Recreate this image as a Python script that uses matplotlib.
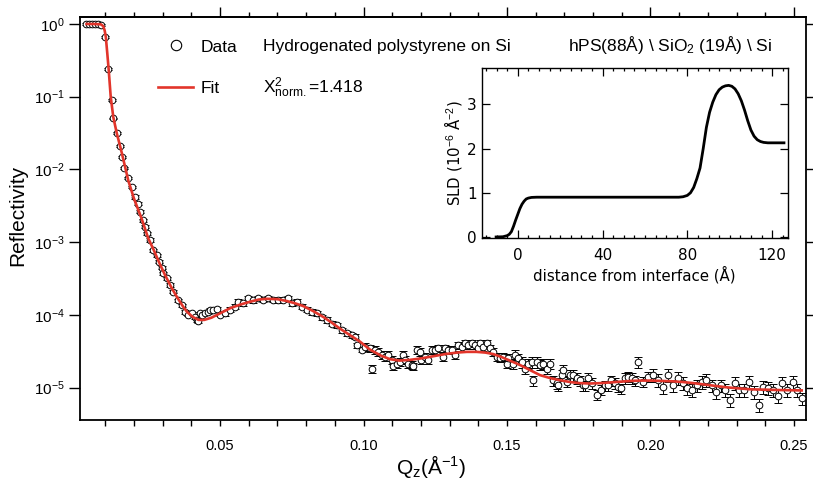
import numpy as np
import matplotlib
matplotlib.use("Agg")
import matplotlib.pyplot as plt
from matplotlib.lines import Line2D
from matplotlib.ticker import MultipleLocator, LogLocator, NullLocator, NullFormatter

plt.rcParams['font.family'] = ['Liberation Sans', 'DejaVu Sans']
plt.rcParams['mathtext.fontset'] = 'custom'
plt.rcParams['mathtext.rm'] = 'Liberation Sans'
plt.rcParams['mathtext.it'] = 'Liberation Sans:italic'

# reflectivity data, Q in 1/A, log10(R)
q_data = [0.0033, 0.0043, 0.0054, 0.0064, 0.0075, 0.0085,
          0.0099, 0.0111, 0.0123, 0.0128, 0.0142, 0.0152, 0.0157, 0.0167, 0.0180, 0.0192,
          0.0204, 0.0215, 0.0221, 0.0230, 0.0239, 0.0245, 0.0256, 0.0268, 0.0279, 0.0289,
          0.0297, 0.0302, 0.0314, 0.0326, 0.0337, 0.0355, 0.0366, 0.0378, 0.0390, 0.0401,
          0.0413, 0.0419, 0.0424, 0.0430, 0.0436, 0.0448, 0.0459, 0.0465, 0.0477, 0.0488,
          0.0500, 0.0517, 0.0535, 0.0552, 0.0564, 0.0581, 0.0599, 0.0616, 0.0634, 0.0651,
          0.0668, 0.0686, 0.0703, 0.0721, 0.0738, 0.0750, 0.0767, 0.0785, 0.0802, 0.0819,
          0.0837, 0.0854, 0.0872, 0.0889, 0.0907, 0.0924, 0.0941, 0.0959, 0.0970, 0.0976,
          0.0994, 0.1005, 0.1023, 0.1028, 0.1040, 0.1052, 0.1063, 0.1075, 0.1087, 0.1098,
          0.1104, 0.1116, 0.1127, 0.1139, 0.1145, 0.1156, 0.1168, 0.1174, 0.1185, 0.1197,
          0.1202, 0.1214, 0.1226, 0.1237, 0.1249, 0.1260, 0.1278, 0.1284, 0.1295, 0.1307,
          0.1319, 0.1330, 0.1342, 0.1354, 0.1365, 0.1377, 0.1389, 0.1400, 0.1406, 0.1417,
          0.1429, 0.1441, 0.1452, 0.1464, 0.1476, 0.1487, 0.1499, 0.1504, 0.1522, 0.1528,
          0.1539, 0.1551, 0.1563, 0.1574, 0.1586, 0.1591, 0.1603, 0.1615, 0.1626, 0.1638,
          0.1650, 0.1661, 0.1673, 0.1679, 0.1690, 0.1696, 0.1708, 0.1720, 0.1731, 0.1743,
          0.1754, 0.1766, 0.1771, 0.1783, 0.1795, 0.1812, 0.1829, 0.1841, 0.1852, 0.1864,
          0.1876, 0.1887, 0.1899, 0.1911, 0.1922, 0.1934, 0.1946, 0.1957, 0.1974, 0.1992,
          0.2009, 0.2027, 0.2045, 0.2062, 0.2077, 0.2097, 0.2114, 0.2128, 0.2143, 0.2161,
          0.2178, 0.2193, 0.2213, 0.2228, 0.2245, 0.2260, 0.2277, 0.2294, 0.2309, 0.2326,
          0.2343, 0.2361, 0.2377, 0.2393, 0.2411, 0.2428, 0.2445, 0.2460, 0.2477, 0.2495,
          0.2511, 0.2527]
logr_data = [0.0, 0.0, 0.0, 0.0, 0.0, -0.01,
             -0.175, -0.62, -1.04, -1.30, -1.50, -1.68, -1.83, -1.98, -2.12, -2.24,
             -2.38, -2.47, -2.58, -2.70, -2.79, -2.88, -2.97, -3.11, -3.18, -3.27,
             -3.35, -3.43, -3.50, -3.59, -3.68, -3.80, -3.87, -3.96, -4.00, -3.98,
             -4.03, -4.07, -4.09, -3.98, -4.00, -3.97, -3.96, -3.93, -3.93, -3.92,
             -4.00, -3.98, -3.93, -3.89, -3.82, -3.84, -3.77, -3.80, -3.77, -3.79,
             -3.77, -3.79, -3.80, -3.79, -3.77, -3.84, -3.82, -3.89, -3.93, -3.96,
             -3.98, -4.03, -4.07, -4.12, -4.14, -4.21, -4.25, -4.28, -4.30, -4.42,
             -4.48, -4.44, -4.46, -4.74, -4.48, -4.51, -4.55, -4.58, -4.55, -4.62,
             -4.71, -4.67, -4.65, -4.55, -4.62, -4.67, -4.69, -4.71, -4.48, -4.51,
             -4.62, -4.58, -4.62, -4.48, -4.48, -4.46, -4.58, -4.46, -4.48, -4.48,
             -4.55, -4.42, -4.44, -4.39, -4.42, -4.39, -4.42, -4.46, -4.39, -4.44,
             -4.39, -4.46, -4.51, -4.58, -4.60, -4.58, -4.67, -4.60, -4.67, -4.55,
             -4.60, -4.65, -4.74, -4.67, -4.65, -4.90, -4.65, -4.69, -4.67, -4.74,
             -4.67, -4.90, -4.94, -4.97, -4.83, -4.76, -4.92, -4.83, -4.83, -4.87,
             -4.90, -4.97, -4.97, -4.87, -4.94, -5.10, -5.03, -4.97, -4.97, -4.90,
             -4.94, -4.99, -5.01, -4.87, -4.85, -4.87, -4.90, -4.65, -4.92, -4.85,
             -4.83, -4.90, -4.99, -4.83, -4.97, -4.87, -4.94, -5.01, -5.03, -4.97,
             -4.92, -4.90, -4.97, -5.06, -4.97, -5.03, -5.17, -4.94, -5.03, -5.03,
             -4.92, -5.06, -5.24, -4.99, -5.01, -5.03, -5.12, -4.94, -5.03, -4.92,
             -5.03, -5.15]

# relative error by Q band
err_edges = [0.02, 0.05, 0.10, 0.15, 0.20]
err_rel = [0.03, 0.05, 0.08, 0.12, 0.16, 0.20]

# fit curve
q_fit = [0.0035, 0.0060, 0.0085, 0.0093, 0.0098, 0.0102, 0.0107, 0.0112, 0.0119, 0.0128,
         0.0140, 0.0155, 0.0170, 0.0180, 0.0200, 0.0227, 0.0250, 0.0268, 0.0290, 0.0308,
         0.0330, 0.0349, 0.0370, 0.0385, 0.0405, 0.0425, 0.0445, 0.0470, 0.0500, 0.0535,
         0.0570, 0.0605, 0.0635, 0.0663, 0.0700, 0.0732, 0.0760, 0.0790, 0.0825, 0.0860,
         0.0890, 0.0918, 0.0953, 0.0988, 0.1023, 0.1060, 0.1092, 0.1125, 0.1162, 0.1200,
         0.1243, 0.1285, 0.1325, 0.1360, 0.1394, 0.1425, 0.1452, 0.1480, 0.1510, 0.1545,
         0.1580, 0.1615, 0.1650, 0.1685, 0.1720, 0.1754, 0.1790, 0.1824, 0.1860, 0.1894,
         0.1930, 0.1963, 0.2000, 0.2040, 0.2080, 0.2114, 0.2150, 0.2180, 0.2220, 0.2260,
         0.2300, 0.2350, 0.2400, 0.2450, 0.2527]
logr_fit = [0.0, 0.0, -0.005, -0.03, -0.09, -0.18, -0.40, -0.63, -1.00, -1.28,
            -1.50, -1.73, -1.98, -2.15, -2.40, -2.68, -2.95, -3.10, -3.30, -3.45,
            -3.62, -3.75, -3.88, -3.96, -4.03, -4.07, -4.07, -4.04, -3.98, -3.91,
            -3.86, -3.82, -3.79, -3.78, -3.785, -3.81, -3.84, -3.88, -3.95, -4.03,
            -4.11, -4.19, -4.28, -4.37, -4.48, -4.56, -4.61, -4.63, -4.62, -4.60,
            -4.57, -4.54, -4.52, -4.51, -4.51, -4.52, -4.54, -4.58, -4.63, -4.69,
            -4.76, -4.83, -4.87, -4.90, -4.925, -4.94, -4.945, -4.94, -4.93, -4.92,
            -4.91, -4.905, -4.905, -4.91, -4.915, -4.925, -4.94, -4.955, -4.975, -4.995,
            -5.01, -5.025, -5.03, -5.035, -5.04]

# SLD profile for the inset (distance in A, SLD in 1e-6 A^-2)
z_sld = [-10.2, -7.0, -5.0, -4.0, -3.0, -2.0, -1.0, 0.0, 1.0, 2.0, 3.0, 4.0, 5.0, 6.5, 9.0,
         40.0, 76.0, 78.0, 80.0, 81.5, 83.0, 84.5, 86.0, 87.5, 89.0, 90.5, 92.0, 93.5,
         95.0, 96.5, 98.0, 99.5, 101.0, 102.5, 104.0, 105.5, 107.0, 108.5, 110.0, 111.5,
         113.0, 114.5, 116.0, 118.0, 121.0, 125.6]
sld = [0.0, 0.005, 0.03, 0.06, 0.12, 0.24, 0.38, 0.51, 0.64, 0.74, 0.81, 0.86, 0.88, 0.895, 0.90,
       0.90, 0.90, 0.91, 0.94, 1.00, 1.12, 1.32, 1.56, 2.00, 2.48, 2.82, 3.05, 3.22,
       3.33, 3.39, 3.42, 3.43, 3.41, 3.35, 3.24, 3.08, 2.87, 2.63, 2.42, 2.28,
       2.20, 2.16, 2.14, 2.13, 2.13, 2.13]

W, H = 813, 482
fig = plt.figure(figsize=(W / 100, H / 100), dpi=100)
ax = fig.add_axes([80 / W, 62 / H, 726 / W, 403 / H])

q = np.array(q_data)
r = 10 ** np.array(logr_data)
rel = np.array(err_rel)[np.searchsorted(err_edges, q)]
ax.errorbar(q, r, yerr=r * rel, fmt='none', ecolor='black', elinewidth=0.7,
            capsize=2.8, capthick=0.7, zorder=2)
ax.plot(q, r, 'o', ms=4.8, mfc='white', mec='black', mew=0.7, zorder=3)
ax.plot(q_fit, 10 ** np.array(logr_fit), color='#e2352b', lw=1.9, zorder=4)

ax.set_yscale('log')
ax.set_xlim(0.0012, 0.2542)
ax.set_ylim(10 ** -5.447, 10 ** 0.096)
ax.xaxis.set_major_locator(MultipleLocator(0.05))
ax.xaxis.set_minor_locator(MultipleLocator(0.01))
ax.xaxis.set_major_formatter(matplotlib.ticker.FormatStrFormatter('%.2f'))
ax.yaxis.set_major_locator(LogLocator(base=10, numticks=10))
ax.yaxis.set_minor_locator(NullLocator())
ax.tick_params(axis='x', which='both', direction='out', length=4, width=1, labelsize=10.5, pad=10)
ax.tick_params(axis='y', which='major', direction='out', length=8, width=1,
               right=True, labelsize=11, pad=3)
for s in ax.spines.values():
    s.set_linewidth(1.3)

top = ax.secondary_xaxis('top')
top.xaxis.set_major_locator(MultipleLocator(0.05))
top.xaxis.set_minor_locator(MultipleLocator(0.01))
top.xaxis.set_major_formatter(NullFormatter())
top.tick_params(which='major', direction='out', length=7, width=1)
top.tick_params(which='minor', direction='out', length=3.5, width=1)
top.spines['top'].set_linewidth(1.3)

fig.text(18 / W, 1 - 215 / H, 'Reflectivity', rotation=90, ha='center', va='center', fontsize=15)
fig.text(431 / W, 1 - 466 / H, r'Q$_\mathrm{z}$(Å$^{-1}$)', ha='center', va='center', fontsize=15)

# legend and annotations
fig.add_artist(Line2D([176 / W], [1 - 45 / H], marker='o', ms=7.5, mfc='white', mec='black',
                      mew=0.8, transform=fig.transFigure))
fig.add_artist(Line2D([158 / W, 193 / W], [1 - 87 / H] * 2, color='#e2352b', lw=1.9,
                      transform=fig.transFigure))
fig.text(201 / W, 1 - 51.5 / H, 'Data', fontsize=12.5, va='baseline')
fig.text(201 / W, 1 - 93 / H, 'Fit', fontsize=12.5, va='baseline')
fig.text(263 / W, 1 - 51.5 / H, 'Hydrogenated polystyrene on Si', fontsize=12.5, va='baseline')
fig.text(263 / W, 1 - 93 / H, r'X$^{2}_{\mathrm{norm.}}$=1.418', fontsize=12.5, va='baseline')
fig.text(568 / W, 1 - 51.5 / H, r'hPS(88Å) \ SiO$_{2}$ (19Å) \ Si', fontsize=12.5, va='baseline')

# inset
axin = fig.add_axes([481.7 / W, 1 - 238.3 / H, 306.3 / W, 170.6 / H])
axin.plot(z_sld, sld, color='black', lw=2)
axin.set_xlim(-17, 127.5)
axin.set_ylim(-0.03, 3.83)
axin.xaxis.set_major_locator(MultipleLocator(40))
axin.xaxis.set_minor_locator(MultipleLocator(5))
axin.yaxis.set_major_locator(MultipleLocator(1))
axin.tick_params(axis='x', which='major', pad=7)
axin.tick_params(which='major', direction='in', length=5.5, width=0.9, top=True, right=True,
                 labelsize=11, labelfontfamily='DejaVu Sans')
axin.tick_params(which='minor', direction='in', length=2.5, width=0.9, top=True, right=True)
for s in axin.spines.values():
    s.set_linewidth(1)
fig.text(634 / W, 1 - 275 / H, 'distance from interface (Å)', ha='center', va='center',
         fontsize=10.8, family='DejaVu Sans')
fig.text(453 / W, 1 - 153 / H, r'SLD (10$^{-6}$ Å$^{-2}$)', rotation=90, ha='center',
         va='center', fontsize=10.8, family='DejaVu Sans')

fig.savefig('out.png', dpi=100)
